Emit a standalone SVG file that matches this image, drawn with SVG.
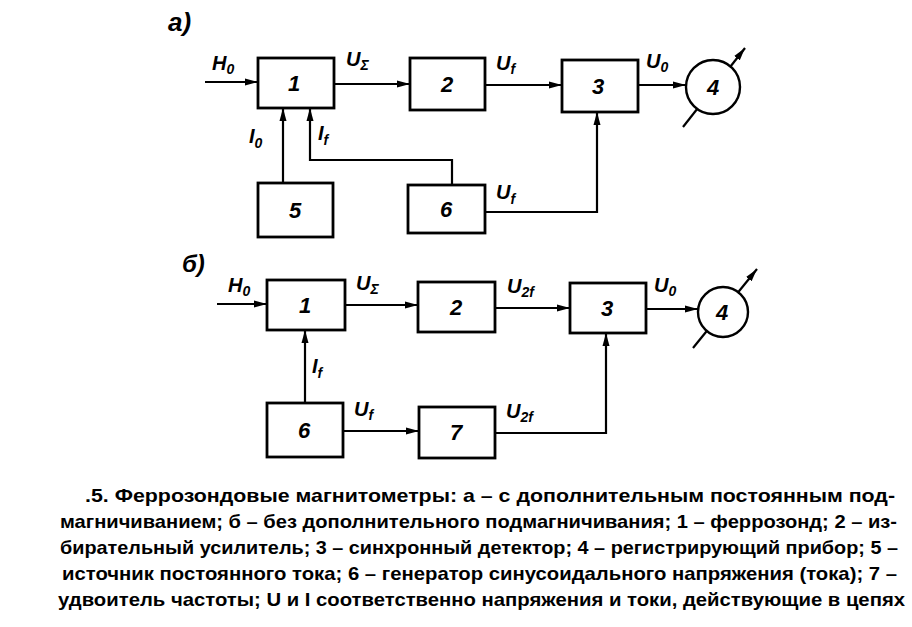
<svg xmlns="http://www.w3.org/2000/svg" width="912" height="627" viewBox="0 0 912 627">
<style>
.box{fill:#fff;stroke:#000;stroke-width:2.8}
.ln{fill:none;stroke:#000;stroke-width:2.2}
.num{font-family:"Liberation Sans",Arial,sans-serif;font-style:italic;font-weight:bold;font-size:22px;text-anchor:middle}
.lbl{font-family:"Liberation Sans",Arial,sans-serif;font-style:italic;font-weight:bold;font-size:20px}
.sub{font-size:14px}
.cap{font-family:"Liberation Sans",Arial,sans-serif;font-size:19px;font-weight:bold}
</style>
<defs>
<marker id="ah" markerUnits="userSpaceOnUse" markerWidth="14" markerHeight="8" refX="13" refY="4" orient="auto">
<path d="M0,0.5 L13,4 L0,7.5 z" fill="#000"/>
</marker>
</defs>
<rect width="912" height="627" fill="#fff"/>

<text class="lbl" x="168" y="31" style="font-size:26px">а)</text>
<text class="lbl" x="182" y="272" style="font-size:24px">б)</text>

<g id="connectors">
<!-- a -->
<line class="ln" x1="205" y1="82" x2="258" y2="82" marker-end="url(#ah)"/>
<line class="ln" x1="334" y1="84" x2="410" y2="84" marker-end="url(#ah)"/>
<line class="ln" x1="485" y1="85" x2="562" y2="85" marker-end="url(#ah)"/>
<line class="ln" x1="638" y1="85" x2="686" y2="85" marker-end="url(#ah)"/>
<line class="ln" x1="283" y1="183" x2="283" y2="108" marker-end="url(#ah)"/>
<polyline class="ln" points="452,185 452,160 310,160 310,108" marker-end="url(#ah)"/>
<polyline class="ln" points="485,212 597,212 597,112" marker-end="url(#ah)"/>
<line class="ln" x1="683" y1="127" x2="745" y2="48" marker-end="url(#ah)"/>
<!-- b -->
<line class="ln" x1="217" y1="304" x2="267" y2="304" marker-end="url(#ah)"/>
<line class="ln" x1="345" y1="305" x2="418" y2="305" marker-end="url(#ah)"/>
<line class="ln" x1="495" y1="308" x2="570" y2="308" marker-end="url(#ah)"/>
<line class="ln" x1="646" y1="309" x2="698" y2="309" marker-end="url(#ah)"/>
<line class="ln" x1="305" y1="403" x2="305" y2="330" marker-end="url(#ah)"/>
<line class="ln" x1="343" y1="431" x2="419" y2="431" marker-end="url(#ah)"/>
<polyline class="ln" points="495,433 606,433 606,333" marker-end="url(#ah)"/>
<line class="ln" x1="693" y1="348" x2="757" y2="269" marker-end="url(#ah)"/>
</g>

<g id="labels">
<text class="lbl" x="212" y="70">H<tspan class="sub" dy="4">0</tspan></text>
<text class="lbl" x="346" y="66">U<tspan class="sub" dy="4">Σ</tspan></text>
<text class="lbl" x="496" y="70">U<tspan class="sub" dy="4">f</tspan></text>
<text class="lbl" x="646" y="68">U<tspan class="sub" dy="4">0</tspan></text>
<text class="lbl" x="249" y="143">I<tspan class="sub" dy="5">0</tspan></text>
<text class="lbl" x="318" y="140">I<tspan class="sub" dy="5">f</tspan></text>
<text class="lbl" x="496" y="199">U<tspan class="sub" dy="5">f</tspan></text>

<text class="lbl" x="228" y="292">H<tspan class="sub" dy="4">0</tspan></text>
<text class="lbl" x="356" y="290">U<tspan class="sub" dy="4">Σ</tspan></text>
<text class="lbl" x="507" y="293">U<tspan class="sub" dy="4">2f</tspan></text>
<text class="lbl" x="654" y="292">U<tspan class="sub" dy="4">0</tspan></text>
<text class="lbl" x="312" y="373">I<tspan class="sub" dy="5">f</tspan></text>
<text class="lbl" x="354" y="416">U<tspan class="sub" dy="4">f</tspan></text>
<text class="lbl" x="506" y="418">U<tspan class="sub" dy="4">2f</tspan></text>
</g>

<g id="a1"><rect class="box" x="258" y="58" width="76" height="50"/><text class="num" x="294" y="91">1</text></g>
<g id="a2"><rect class="box" x="410" y="58" width="75" height="52"/><text class="num" x="447" y="92">2</text></g>
<g id="a3"><rect class="box" x="562" y="60" width="76" height="52"/><text class="num" x="598" y="94">3</text></g>
<g id="a4"><circle cx="713" cy="87" r="27" fill="#fff" stroke="#000" stroke-width="2.4"/><text class="num" x="713" y="95">4</text></g>
<g id="a5"><rect class="box" x="258" y="183" width="75" height="54"/><text class="num" x="295" y="218">5</text></g>
<g id="a6"><rect class="box" x="408" y="185" width="77" height="48"/><text class="num" x="446" y="217">6</text></g>

<g id="b1"><rect class="box" x="267" y="280" width="78" height="50"/><text class="num" x="305" y="313">1</text></g>
<g id="b2"><rect class="box" x="418" y="282" width="77" height="50"/><text class="num" x="456" y="315">2</text></g>
<g id="b3"><rect class="box" x="570" y="283" width="76" height="50"/><text class="num" x="607" y="316">3</text></g>
<g id="b4"><circle cx="723" cy="312" r="25" fill="#fff" stroke="#000" stroke-width="2.4"/><text class="num" x="722" y="320">4</text></g>
<g id="b6"><rect class="box" x="267" y="403" width="76" height="54"/><text class="num" x="304" y="438">6</text></g>
<g id="b7"><rect class="box" x="419" y="407" width="76" height="51"/><text class="num" x="456" y="440">7</text></g>

<g id="caption">
<text class="cap" x="85" y="502" textLength="810" lengthAdjust="spacingAndGlyphs">.5. Феррозондовые магнитометры: а – с дополнительным постоянным под-</text>
<text class="cap" x="60" y="528" textLength="837" lengthAdjust="spacingAndGlyphs">магничиванием; б – без дополнительного подмагничивания; 1 – феррозонд; 2 – из-</text>
<text class="cap" x="60" y="554" textLength="838" lengthAdjust="spacingAndGlyphs">бирательный усилитель; 3 – синхронный детектор; 4 – регистрирующий прибор; 5 –</text>
<text class="cap" x="62" y="580" textLength="835" lengthAdjust="spacingAndGlyphs">источник постоянного тока; 6 – генератор синусоидального напряжения (тока); 7 –</text>
<text class="cap" x="58" y="606" textLength="847" lengthAdjust="spacingAndGlyphs">удвоитель частоты; U и I соответственно напряжения и токи, действующие в цепях</text>
</g>
</svg>
